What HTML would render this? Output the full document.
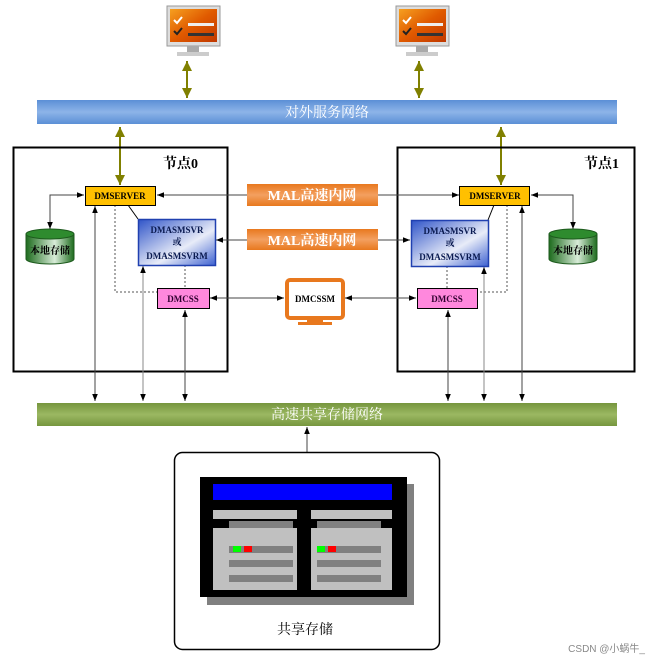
<!DOCTYPE html>
<html><head><meta charset="utf-8"><style>
html,body{margin:0;padding:0;background:#fff;}
svg{display:block;font-family:"Liberation Serif","Noto Serif CJK SC",serif;}
</style></head><body>
<svg width="649" height="661" viewBox="0 0 649 661" xmlns="http://www.w3.org/2000/svg">
<defs>
<marker id="a" viewBox="0 0 10 10" refX="10" refY="5" markerWidth="7" markerHeight="7" orient="auto-start-reverse"><path d="M0,1 L10,5 L0,9 z" fill="#000"/></marker>
<marker id="o" viewBox="0 0 10 10" refX="10" refY="5" markerWidth="5" markerHeight="5" orient="auto-start-reverse"><path d="M0,0 L10,5 L0,10 z" fill="#808000"/></marker>
<linearGradient id="bl" x1="0" y1="0" x2="0" y2="1"><stop offset="0" stop-color="#5b8fd6"/><stop offset="0.5" stop-color="#8db4e8"/><stop offset="1" stop-color="#5b8fd6"/></linearGradient>
<linearGradient id="gr" x1="0" y1="0" x2="0" y2="1"><stop offset="0" stop-color="#76963e"/><stop offset="0.5" stop-color="#9bb862"/><stop offset="1" stop-color="#76963e"/></linearGradient>
<linearGradient id="or" x1="0" y1="0" x2="0" y2="1"><stop offset="0" stop-color="#e8781e"/><stop offset="0.5" stop-color="#f3a060"/><stop offset="1" stop-color="#e8781e"/></linearGradient>
<linearGradient id="dm" x1="0" y1="0" x2="1" y2="1"><stop offset="0" stop-color="#2f54c8"/><stop offset="0.6" stop-color="#e8ecf8"/><stop offset="1" stop-color="#3c60d0"/></linearGradient>
<linearGradient id="cy" x1="0" y1="0" x2="1" y2="0"><stop offset="0" stop-color="#1d6b1d"/><stop offset="0.6" stop-color="#d8ecd8"/><stop offset="1" stop-color="#1d6b1d"/></linearGradient>
<linearGradient id="mon" x1="0" y1="0" x2="1" y2="1"><stop offset="0" stop-color="#f6a020"/><stop offset="0.5" stop-color="#e05a00"/><stop offset="1" stop-color="#c03800"/></linearGradient>
</defs>

<!-- top monitors -->
<g>
<rect x="167" y="6" width="53" height="40" fill="#ddd" stroke="#999"/>
<rect x="170" y="9" width="47" height="33" fill="url(#mon)"/>
<path d="M174 20 l3 3 l5 -6" stroke="#fff" stroke-width="2" fill="none"/>
<path d="M174 31 l3 3 l5 -6" stroke="#222" stroke-width="2" fill="none"/>
<rect x="188" y="23" width="26" height="3" fill="#eee"/><rect x="188" y="33" width="26" height="3" fill="#333"/>
<rect x="187" y="46" width="12" height="6" fill="#aaa"/><rect x="177" y="52" width="32" height="4" fill="#ccc"/>
</g>
<g>
<rect x="396" y="6" width="53" height="40" fill="#ddd" stroke="#999"/>
<rect x="399" y="9" width="47" height="33" fill="url(#mon)"/>
<path d="M403 20 l3 3 l5 -6" stroke="#fff" stroke-width="2" fill="none"/>
<path d="M403 31 l3 3 l5 -6" stroke="#222" stroke-width="2" fill="none"/>
<rect x="417" y="23" width="26" height="3" fill="#eee"/><rect x="417" y="33" width="26" height="3" fill="#333"/>
<rect x="416" y="46" width="12" height="6" fill="#aaa"/><rect x="406" y="52" width="32" height="4" fill="#ccc"/>
</g>

<!-- olive arrows -->
<g stroke="#808000" stroke-width="2" fill="none">
<line x1="187" y1="61" x2="187" y2="98" marker-start="url(#o)" marker-end="url(#o)"/>
<line x1="419" y1="61" x2="419" y2="98" marker-start="url(#o)" marker-end="url(#o)"/>
<line x1="120" y1="127" x2="120" y2="185" marker-start="url(#o)" marker-end="url(#o)"/>
<line x1="501" y1="127" x2="501" y2="185" marker-start="url(#o)" marker-end="url(#o)"/>
</g>

<rect x="37" y="100" width="580" height="24" fill="url(#bl)"/>
<text x="327" y="117" font-size="14" fill="#fff" text-anchor="middle">对外服务网络</text>

<!-- node boxes -->
<rect x="13.5" y="147.5" width="214" height="224" fill="none" stroke="#000" stroke-width="2"/>
<rect x="397.5" y="147.5" width="237" height="224" fill="none" stroke="#000" stroke-width="2"/>
<text x="163" y="168" font-size="14" font-weight="bold">节点0</text>
<text x="584" y="168" font-size="14" font-weight="bold">节点1</text>

<!-- dotted lines -->
<g stroke="#555" stroke-dasharray="2,2" fill="none">
<path d="M115 205 V292 H157"/>
<path d="M185 265 V288"/>
<path d="M447 266 V288"/>
<path d="M507 205 V292 H477"/>
</g>
<line x1="128" y1="205" x2="138" y2="219" stroke="#000"/>
<line x1="494" y1="205" x2="488" y2="220" stroke="#000"/>

<!-- connectors -->
<g stroke="#444" stroke-width="1" fill="none">
<line x1="248" y1="195" x2="157" y2="195" marker-end="url(#a)"/>
<line x1="378" y1="195" x2="459" y2="195" marker-end="url(#a)"/>
<line x1="248" y1="240" x2="216" y2="240" marker-end="url(#a)"/>
<line x1="378" y1="240" x2="410" y2="240" marker-end="url(#a)"/>
<line x1="210" y1="298" x2="284" y2="298" marker-start="url(#a)" marker-end="url(#a)"/>
<line x1="345" y1="298" x2="416" y2="298" marker-start="url(#a)" marker-end="url(#a)"/>
<path d="M84 195 H50 V229" marker-start="url(#a)" marker-end="url(#a)"/>
<path d="M531 195 H573 V229" marker-start="url(#a)" marker-end="url(#a)"/>
<line x1="95" y1="206" x2="95" y2="401" marker-start="url(#a)" marker-end="url(#a)"/>
<line x1="143" y1="266" x2="143" y2="401" stroke="#888" marker-start="url(#a)" marker-end="url(#a)"/>
<line x1="185" y1="310" x2="185" y2="401" marker-start="url(#a)" marker-end="url(#a)"/>
<line x1="448" y1="310" x2="448" y2="401" marker-start="url(#a)" marker-end="url(#a)"/>
<line x1="484" y1="267" x2="484" y2="401" stroke="#888" marker-start="url(#a)" marker-end="url(#a)"/>
<line x1="522" y1="206" x2="522" y2="401" marker-start="url(#a)" marker-end="url(#a)"/>
<line x1="307" y1="427" x2="307" y2="475" marker-start="url(#a)" marker-end="url(#a)"/>
</g>

<!-- MAL boxes -->
<rect x="247" y="184" width="131" height="22" fill="url(#or)"/>
<text x="312" y="200" font-size="14" font-weight="bold" fill="#fff" text-anchor="middle">MAL高速内网</text>
<rect x="247" y="229" width="131" height="21" fill="url(#or)"/>
<text x="312" y="245" font-size="14" font-weight="bold" fill="#fff" text-anchor="middle">MAL高速内网</text>

<!-- DMCSSM monitor -->
<rect x="287" y="280" width="56" height="38" rx="3" fill="#fff" stroke="#e8781e" stroke-width="4"/>
<rect x="307" y="319" width="16" height="3" fill="#e8781e"/>
<rect x="298" y="322" width="34" height="3" fill="#e8781e"/>
<text x="315" y="302" font-size="9" font-weight="bold" text-anchor="middle">DMCSSM</text>

<!-- DMSERVER -->
<rect x="85.5" y="186.5" width="70" height="19" fill="#ffc000" stroke="#000"/>
<text x="120" y="199" font-size="9" font-weight="bold" text-anchor="middle">DMSERVER</text>
<rect x="459.5" y="186.5" width="70" height="19" fill="#ffc000" stroke="#000"/>
<text x="495" y="199" font-size="9" font-weight="bold" text-anchor="middle">DMSERVER</text>

<!-- DMASMSVR -->
<rect x="138.5" y="219.5" width="77" height="46" fill="url(#dm)" stroke="#2040b0" stroke-width="1.5"/>
<text x="177" y="233" font-size="9" font-weight="bold" text-anchor="middle" fill="#0a1a50">DMASMSVR</text>
<text x="177" y="245" font-size="9" font-weight="bold" text-anchor="middle" fill="#0a1a50">或</text>
<text x="177" y="259" font-size="9" font-weight="bold" text-anchor="middle" fill="#0a1a50">DMASMSVRM</text>
<rect x="411.5" y="220.5" width="77" height="46" fill="url(#dm)" stroke="#2040b0" stroke-width="1.5"/>
<text x="450" y="234" font-size="9" font-weight="bold" text-anchor="middle" fill="#0a1a50">DMASMSVR</text>
<text x="450" y="246" font-size="9" font-weight="bold" text-anchor="middle" fill="#0a1a50">或</text>
<text x="450" y="260" font-size="9" font-weight="bold" text-anchor="middle" fill="#0a1a50">DMASMSVRM</text>

<!-- DMCSS -->
<rect x="157.5" y="288.5" width="52" height="20" fill="#ff88dd" stroke="#000"/>
<text x="183" y="302" font-size="9" font-weight="bold" text-anchor="middle" fill="#300030">DMCSS</text>
<rect x="417.5" y="288.5" width="60" height="20" fill="#ff88dd" stroke="#000"/>
<text x="447" y="302" font-size="9" font-weight="bold" text-anchor="middle" fill="#300030">DMCSS</text>

<!-- cylinders -->
<g>
<path d="M26 234 V259 A24 5 0 0 0 74 259 V234" fill="url(#cy)" stroke="#1d5a1d"/>
<ellipse cx="50" cy="234" rx="24" ry="5" fill="#2e8b2e" stroke="#1d5a1d"/>
<text x="50" y="254" font-size="10" font-weight="bold" text-anchor="middle">本地存储</text>
</g>
<g>
<path d="M549 234 V259 A24 5 0 0 0 597 259 V234" fill="url(#cy)" stroke="#1d5a1d"/>
<ellipse cx="573" cy="234" rx="24" ry="5" fill="#2e8b2e" stroke="#1d5a1d"/>
<text x="573" y="254" font-size="10" font-weight="bold" text-anchor="middle">本地存储</text>
</g>

<rect x="37" y="403" width="580" height="23" fill="url(#gr)"/>
<text x="327" y="419" font-size="14" fill="#fff" text-anchor="middle">高速共享存储网络</text>

<!-- shared storage -->
<rect x="174.5" y="452.5" width="265" height="197" rx="8" fill="#fff" stroke="#000" stroke-width="1.5"/>
<rect x="207" y="484" width="207" height="121" fill="#808080"/>
<rect x="200" y="477" width="207" height="120" fill="#000"/>
<rect x="213" y="484" width="179" height="16" fill="#0000ff"/>
<rect x="213" y="510" width="84" height="9" fill="#c0c0c0"/>
<rect x="311" y="510" width="81" height="9" fill="#c0c0c0"/>
<rect x="229" y="521" width="64" height="7" fill="#808080"/>
<rect x="317" y="521" width="64" height="7" fill="#808080"/>
<rect x="213" y="528" width="84" height="62" fill="#c0c0c0"/>
<rect x="311" y="528" width="81" height="62" fill="#c0c0c0"/>
<rect x="229" y="546" width="64" height="7" fill="#808080"/>
<rect x="229" y="560" width="64" height="7" fill="#808080"/>
<rect x="229" y="575" width="64" height="7" fill="#808080"/>
<rect x="317" y="546" width="64" height="7" fill="#808080"/>
<rect x="317" y="560" width="64" height="7" fill="#808080"/>
<rect x="317" y="575" width="64" height="7" fill="#808080"/>
<rect x="233" y="546" width="8" height="6" fill="#00ff00"/><rect x="244" y="546" width="8" height="6" fill="#ff0000"/>
<rect x="317" y="546" width="8" height="6" fill="#00ff00"/><rect x="328" y="546" width="8" height="6" fill="#ff0000"/>
<text x="305" y="634" font-size="14" text-anchor="middle">共享存储</text>

<text x="645" y="652" font-size="10" fill="#888" text-anchor="end" font-family="Liberation Sans,Noto Sans CJK SC,sans-serif">CSDN @小蜗牛_</text>
</svg>
</body></html>
